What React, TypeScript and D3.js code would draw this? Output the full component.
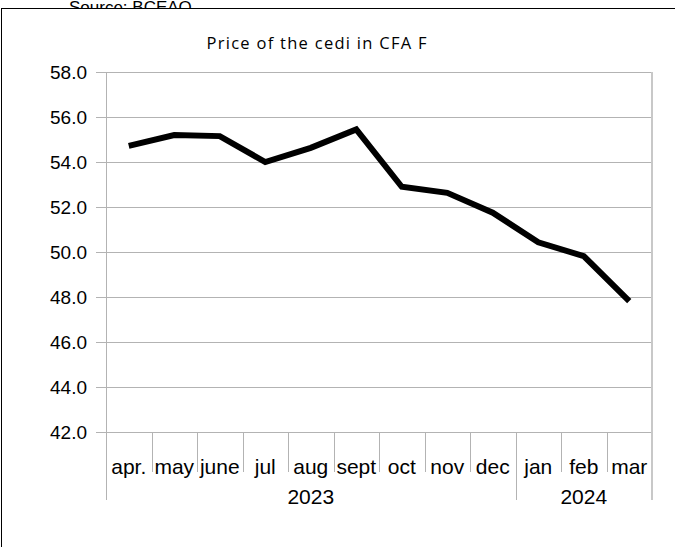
import React from "react";
import * as d3 from "d3";

const months = ["apr.", "may", "june", "jul", "aug", "sept", "oct", "nov", "dec", "jan", "feb", "mar"];
const prices = [54.72, 55.2, 55.15, 54.0, 54.63, 55.45, 52.9, 52.63, 51.75, 50.43, 49.82, 47.82];
const years = [
  { label: "2023", start: 0, end: 9 },
  { label: "2024", start: 9, end: 12 },
];
const yTicks = [42, 44, 46, 48, 50, 52, 54, 56, 58];
const title = "Price of the cedi in CFA F";
const source = "Source: BCEAO";

export default function App() {
  const W = 675, H = 547;
  const left = 106, right = 652, top = 72, bottom = 432;
  const x = d3.scaleBand<number>().domain(d3.range(months.length)).range([left, right]).padding(0);
  const y = d3.scaleLinear().domain([42, 58]).range([bottom, top]);
  const line = d3.line<number>().x((_, i) => (x(i) as number) + x.bandwidth() / 2).y((d) => y(d));
  const font = "'Liberation Sans', Arial, sans-serif";
  const grid = "#b3b3b3";
  const edge = (i: number) => (i < months.length ? (x(i) as number) : right);
  const longEdges = new Set<number>();
  years.forEach((yr) => { longEdges.add(yr.start); longEdges.add(yr.end); });

  return (
    <svg width={W} height={H} style={{ position: "absolute", left: 0, top: 0, background: "#fff" }} fontFamily={font}>
      <text x={69} y={13} fontSize={17} fill="#000">{source}</text>
      <rect x={1.5} y={8.5} width={W + 10} height={H + 10} fill="#fff" stroke="#000" strokeWidth={1} />
      <text x={316.5} y={48.5} fontSize={16.5} fontFamily="'Open Sans', sans-serif" textAnchor="middle" fill="#000" textLength={220} lengthAdjust="spacing">{title}</text>
      {yTicks.map((t) => (
        <g key={t}>
          <line x1={96} x2={right} y1={Math.round(y(t)) + 0.5} y2={Math.round(y(t)) + 0.5} stroke={grid} strokeWidth={1} />
          <text x={87} y={y(t) + 6.5} fontSize={19} textAnchor="end" fill="#000">{t.toFixed(1)}</text>
        </g>
      ))}
      <line x1={left + 0.5} x2={left + 0.5} y1={top} y2={500} stroke={grid} strokeWidth={1} />
      <line x1={right} x2={right} y1={top} y2={500} stroke="#c8c8c8" strokeWidth={2} />
      {d3.range(1, months.length).map((i) => (
        <line key={i} x1={Math.round(edge(i)) + 0.5} x2={Math.round(edge(i)) + 0.5} y1={bottom} y2={longEdges.has(i) ? 500 : 472} stroke={grid} strokeWidth={1} />
      ))}
      {months.map((m, i) => (
        <text key={m} x={(x(i) as number) + x.bandwidth() / 2} y={474} fontSize={21} textAnchor="middle" fill="#000">{m}</text>
      ))}
      {years.map((yr) => (
        <text key={yr.label} x={(edge(yr.start) + edge(yr.end)) / 2} y={504} fontSize={21} textAnchor="middle" fill="#000">{yr.label}</text>
      ))}
      <path d={line(prices) || ""} fill="none" stroke="#000" strokeWidth={6} strokeLinejoin="miter" />
    </svg>
  );
}
